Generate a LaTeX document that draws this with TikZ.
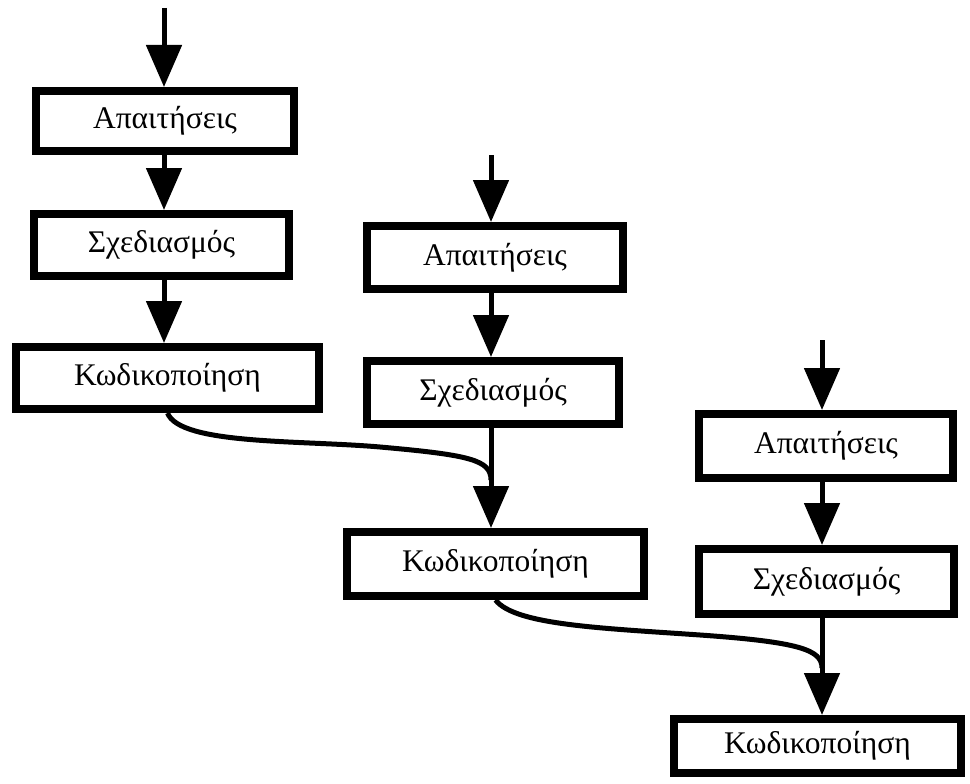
\documentclass[tikz,border=0pt]{standalone}
\usepackage{fontspec}
\setmainfont{Liberation Serif}
\usetikzlibrary{arrows.meta}
\begin{document}
\begin{tikzpicture}[x=1pt,y=-1pt,
  stage/.style={draw=black,line width=8pt,fill=white,inner sep=0pt,
    font=\fontsize{31.5}{34}\selectfont},
  flow/.style={line width=5pt,-{Triangle[width=35pt,length=42pt]}},
  feed/.style={line width=5pt}]
\useasboundingbox[fill=white] (0,0) rectangle (970,784);
% first cycle
\node[stage,minimum width=258pt,minimum height=60pt] (A1) at (165,121) {Απαιτήσεις};
\node[stage,minimum width=255pt,minimum height=62pt] (S1) at (161.5,245) {Σχεδιασμός};
\node[stage,minimum width=303pt,minimum height=62pt] (K1) at (167.5,378) {Κωδικοποίηση};
% second cycle
\node[stage,minimum width=256pt,minimum height=63pt] (A2) at (495,257.5) {Απαιτήσεις};
\node[stage,minimum width=252pt,minimum height=63pt] (S2) at (493,392.5) {Σχεδιασμός};
\node[stage,minimum width=297pt,minimum height=64pt] (K2) at (495.5,564) {Κωδικοποίηση};
% third cycle
\node[stage,minimum width=254pt,minimum height=64pt] (A3) at (826,446) {Απαιτήσεις};
\node[stage,minimum width=255pt,minimum height=65pt] (S3) at (826.5,581.5) {Σχεδιασμός};
\node[stage,minimum width=287pt,minimum height=54pt] (K3) at (817.5,746) {Κωδικοποίηση};
% entry points
\coordinate (in1) at (164,8);
\coordinate (in2) at (491,155);
\coordinate (in3) at (822,340);
\coordinate (m2) at (491,480);
\coordinate (m3) at (822,668);
% vertical flows
\draw[flow] (in1) -- (in1 |- A1.north);
\draw[flow] (A1.south -| in1) -- (in1 |- S1.north);
\draw[flow] (S1.south -| in1) -- (in1 |- K1.north);
\draw[flow] (in2) -- (in2 |- A2.north);
\draw[flow] (A2.south -| in2) -- (in2 |- S2.north);
\draw[flow] (S2.south -| in2) -- (in2 |- K2.north);
\draw[flow] (in3) -- (in3 |- A3.north);
\draw[flow] (A3.south -| in3) -- (in3 |- S3.north);
\draw[flow] (S3.south -| in3) -- (in3 |- K3.north);
% hand-over curves into the next cycle
\draw[feed] (K1.south) .. controls (180,445) and (300,440) .. (380,447)
  .. controls (470,455) and (491,460) .. (m2);
\draw[feed] (K2.south) .. controls (515,625) and (600,628) .. (700,635)
  .. controls (800,642) and (822,650) .. (m3);
\end{tikzpicture}
\end{document}
